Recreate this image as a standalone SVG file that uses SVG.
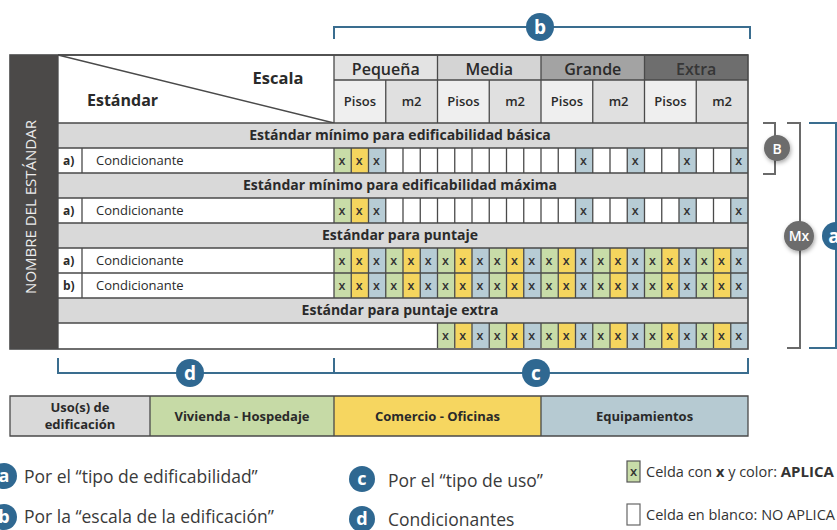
<svg xmlns="http://www.w3.org/2000/svg" width="837" height="530" viewBox="0 0 837 530">
<style>
.t{font-family:"Open Sans","Liberation Sans",sans-serif;fill:#2a2a2a}
.b{font-weight:700}
.sb{font-weight:600}
.grid{stroke:#4a4a4a;stroke-width:1.3;fill:none}
.cx{font-family:"Open Sans","Liberation Sans",sans-serif;font-size:12.5px;font-weight:600;fill:#333;text-anchor:middle}
.bar{fill:#d9d9d9}
.blue{stroke:#3a6d8f;stroke-width:2;fill:none}
.grey{stroke:#6a6a6a;stroke-width:2;fill:none}
.bc{fill:#2f6891}
.gc{fill:#6c6c6c}
.cl{font-family:"Open Sans","Liberation Sans",sans-serif;font-weight:700;fill:#fff;text-anchor:middle}
.lg{font-family:"Open Sans","Liberation Sans",sans-serif;font-size:17.5px;fill:#3a3a3a}
</style>
<defs>
<pattern id="gyb" patternUnits="userSpaceOnUse" x="334" y="0" width="51.75" height="530">
<rect x="0" y="0" width="17.25" height="530" fill="#c8dca8"/>
<rect x="17.25" y="0" width="17.25" height="530" fill="#f5d55e"/>
<rect x="34.5" y="0" width="17.25" height="530" fill="#b7ccd5"/>
</pattern>
<filter id="sh" x="-50%" y="-50%" width="200%" height="200%">
<feDropShadow dx="1" dy="2" stdDeviation="2" flood-color="#000" flood-opacity="0.35"/>
</filter>
</defs>

<g id="table">
<rect x="10" y="55" width="738" height="294" fill="#fff"/>
<rect x="10" y="55" width="48" height="294" fill="#4b4948"/>
<text transform="translate(36,207) rotate(-90)" class="t" style="font-size:15px;fill:#ececec" text-anchor="middle">NOMBRE DEL ESTÁNDAR</text>

<g id="header">
<rect x="334" y="55" width="103.5" height="25" fill="#e3e3e3"/>
<rect x="437.5" y="55" width="103.5" height="25" fill="#d4d4d4"/>
<rect x="541" y="55" width="103.5" height="25" fill="#a3a3a3"/>
<rect x="644.5" y="55" width="103.5" height="25" fill="#6e6e6e"/>
<rect x="334" y="80" width="51.75" height="43" fill="#efefef"/>
<rect x="385.75" y="80" width="51.75" height="43" fill="#e0e0e0"/>
<rect x="437.5" y="80" width="51.75" height="43" fill="#efefef"/>
<rect x="489.25" y="80" width="51.75" height="43" fill="#e0e0e0"/>
<rect x="541" y="80" width="51.75" height="43" fill="#efefef"/>
<rect x="592.75" y="80" width="51.75" height="43" fill="#e0e0e0"/>
<rect x="644.5" y="80" width="51.75" height="43" fill="#efefef"/>
<rect x="696.25" y="80" width="51.75" height="43" fill="#e0e0e0"/>
<line x1="58" y1="55" x2="334" y2="123" class="grid"/>
<text x="278" y="84" class="t b" style="font-size:16.5px" text-anchor="middle">Escala</text>
<text x="87" y="106" class="t b" style="font-size:16px">Estándar</text>
<g class="t sb" style="font-size:16px" text-anchor="middle">
<text x="385.75" y="75">Pequeña</text>
<text x="489.25" y="75">Media</text>
<text x="592.75" y="75">Grande</text>
<text x="696.25" y="75" style="fill:#363636">Extra</text>
</g>
<g class="t sb" style="font-size:13px" text-anchor="middle">
<text x="359.9" y="106">Pisos</text><text x="411.6" y="106">m2</text>
<text x="463.4" y="106">Pisos</text><text x="515.1" y="106">m2</text>
<text x="566.9" y="106">Pisos</text><text x="618.6" y="106">m2</text>
<text x="670.4" y="106">Pisos</text><text x="722.1" y="106">m2</text>
</g>
</g>

<g id="bars">
<rect class="bar" x="58" y="123" width="690" height="25"/>
<rect class="bar" x="58" y="173" width="690" height="25"/>
<rect class="bar" x="58" y="223" width="690" height="25"/>
<rect class="bar" x="58" y="298" width="690" height="25"/>
<g class="t b" style="font-size:14px" text-anchor="middle">
<text x="400" y="140">Estándar mínimo para edificabilidad básica</text>
<text x="400" y="190">Estándar mínimo para edificabilidad máxima</text>
<text x="400" y="240">Estándar para puntaje</text>
<text x="400" y="315">Estándar para puntaje extra</text>
</g>
</g>

<g id="rows">
<rect x="334" y="148" width="51.75" height="25" fill="url(#gyb)"/>
<rect x="334" y="198" width="51.75" height="25" fill="url(#gyb)"/>
<g fill="#b7ccd5">
<rect x="575.5" y="148" width="17.25" height="25"/><rect x="627.25" y="148" width="17.25" height="25"/><rect x="679" y="148" width="17.25" height="25"/><rect x="730.75" y="148" width="17.25" height="25"/>
<rect x="575.5" y="198" width="17.25" height="25"/><rect x="627.25" y="198" width="17.25" height="25"/><rect x="679" y="198" width="17.25" height="25"/><rect x="730.75" y="198" width="17.25" height="25"/>
</g>
<rect x="334" y="248" width="414" height="50" fill="url(#gyb)"/>
<rect x="437.5" y="323" width="310.5" height="25" fill="url(#gyb)"/>

<g class="t" style="font-size:13px">
<text x="63" y="165" class="b" style="font-size:12px">a)</text><text x="96" y="165">Condicionante</text>
<text x="63" y="215" class="b" style="font-size:12px">a)</text><text x="96" y="215">Condicionante</text>
<text x="63" y="265" class="b" style="font-size:12px">a)</text><text x="96" y="265">Condicionante</text>
<text x="63" y="290" class="b" style="font-size:12px">b)</text><text x="96" y="290">Condicionante</text>
</g>

<text class="cx" y="165" x="342 359.2 376.4 583.4 635.2 686.9 738.7">xxxxxxx</text>
<text class="cx" y="215" x="342 359.2 376.4 583.4 635.2 686.9 738.7">xxxxxxx</text>
<text class="cx" y="265" x="342 359.2 376.4 393.7 410.9 428.2 445.4 462.7 479.9 497.2 514.4 531.7 548.9 566.2 583.4 600.7 617.9 635.2 652.4 669.7 686.9 704.2 721.4 738.7">xxxxxxxxxxxxxxxxxxxxxxxx</text>
<text class="cx" y="290" x="342 359.2 376.4 393.7 410.9 428.2 445.4 462.7 479.9 497.2 514.4 531.7 548.9 566.2 583.4 600.7 617.9 635.2 652.4 669.7 686.9 704.2 721.4 738.7">xxxxxxxxxxxxxxxxxxxxxxxx</text>
<text class="cx" y="340" x="445.4 462.7 479.9 497.2 514.4 531.7 548.9 566.2 583.4 600.7 617.9 635.2 652.4 669.7 686.9 704.2 721.4 738.7">xxxxxxxxxxxxxxxxxx</text>
</g>

<g id="gridlines" class="grid">
<path d="M58,55H748M334,80H748M58,123H748M58,148H748M58,173H748M58,198H748M58,223H748M58,248H748M58,273H748M58,298H748M58,323H748"/>
<path d="M58,55V349M334,55V123M437.5,55V123M541,55V123M644.5,55V123M385.75,80V123M489.25,80V123M592.75,80V123M696.25,80V123"/>
<path d="M82,148V173M82,198V223M82,248V298"/>
<path id="cellv" d="M334,148V173M351.25,148V173M368.5,148V173M385.75,148V173M403,148V173M420.25,148V173M437.5,148V173M454.75,148V173M472,148V173M489.25,148V173M506.5,148V173M523.75,148V173M541,148V173M558.25,148V173M575.5,148V173M592.75,148V173M610,148V173M627.25,148V173M644.5,148V173M661.75,148V173M679,148V173M696.25,148V173M713.5,148V173M730.75,148V173"/>
<use href="#cellv" y="50"/>
<use href="#cellv" y="100"/>
<use href="#cellv" y="125"/>
<path d="M437.5,323V348M454.75,323V348M472,323V348M489.25,323V348M506.5,323V348M523.75,323V348M541,323V348M558.25,323V348M575.5,323V348M592.75,323V348M610,323V348M627.25,323V348M644.5,323V348M661.75,323V348M679,323V348M696.25,323V348M713.5,323V348M730.75,323V348"/>
<rect x="10" y="55" width="738" height="294" stroke-width="1.6"/>
</g>
</g>

<g id="connectors">
<path class="blue" d="M334,39V27H750V39"/>
<path class="blue" d="M58,358V373H748V358M334,358V373"/>
<path class="grey" d="M763,123H775V174H763"/>
<path class="grey" d="M787,123H800V348H787"/>
<path class="blue" d="M809,123H836V348H809"/>
</g>

<g id="label-b"><circle class="bc" cx="540" cy="27" r="14"/><text class="cl" x="540" y="34" style="font-size:19px">b</text></g>
<g id="label-d"><circle class="bc" cx="190" cy="373" r="14"/><text class="cl" x="190" y="380" style="font-size:19px">d</text></g>
<g id="label-c"><circle class="bc" cx="536" cy="373" r="14"/><text class="cl" x="536" y="380" style="font-size:19px">c</text></g>
<g id="label-B"><circle class="gc" cx="777" cy="148" r="13" filter="url(#sh)"/><text class="cl" x="777" y="153.5" style="font-size:14px;font-weight:600">B</text></g>
<g id="label-Mx"><circle class="gc" cx="799" cy="236" r="15" filter="url(#sh)"/><text class="cl" x="799" y="241" style="font-size:14px;font-weight:600">Mx</text></g>
<g id="label-a"><circle class="bc" cx="836" cy="236" r="14"/><text class="cl" x="834" y="243" style="font-size:19px">a</text></g>

<g id="uses">
<rect x="10" y="396" width="140" height="40" fill="#d9d9d9"/>
<rect x="150" y="396" width="184" height="40" fill="#c6daa6"/>
<rect x="334" y="396" width="207" height="40" fill="#f6d660"/>
<rect x="541" y="396" width="207" height="40" fill="#b6cad2"/>
<path class="grid" d="M10,396H748V436H10ZM150,396V436M334,396V436M541,396V436" stroke-width="1.6"/>
<g class="t b" style="font-size:13px" text-anchor="middle">
<text x="80" y="412">Uso(s) de</text>
<text x="80" y="429">edificación</text>
<text x="242" y="421">Vivienda - Hospedaje</text>
<text x="437.5" y="421">Comercio - Oficinas</text>
<text x="644.5" y="421">Equipamientos</text>
</g>
</g>

<g id="legend">
<circle class="bc" cx="4" cy="476" r="13"/><text class="cl" x="4" y="482" style="font-size:18px">a</text>
<circle class="bc" cx="4" cy="517" r="13"/><text class="cl" x="4" y="523" style="font-size:18px">b</text>
<text class="lg" x="24" y="483">Por el “tipo de edificabilidad”</text>
<text class="lg" x="24" y="523">Por la “escala de la edificación”</text>
<circle class="bc" cx="362" cy="479" r="13"/><text class="cl" x="362" y="485" style="font-size:18px">c</text>
<circle class="bc" cx="362" cy="519" r="13"/><text class="cl" x="362" y="525" style="font-size:18px">d</text>
<text class="lg" x="388" y="487">Por el “tipo de uso”</text>
<text class="lg" x="388" y="526">Condicionantes</text>
<rect x="627" y="461" width="13" height="21" fill="#c8dca8" stroke="#555" stroke-width="1.2"/>
<text class="cx" x="633.5" y="476" style="font-size:13px">x</text>
<text class="t" x="646" y="477" style="font-size:14.5px;fill:#333">Celda con <tspan class="b">x</tspan> y color:  <tspan class="b" style="font-size:15px">APLICA</tspan></text>
<rect x="627" y="504" width="13" height="21" fill="#fff" stroke="#666" stroke-width="1.2"/>
<text class="t" x="646" y="520" style="font-size:14.5px;fill:#333">Celda en blanco:  NO APLICA</text>
</g>
</svg>
